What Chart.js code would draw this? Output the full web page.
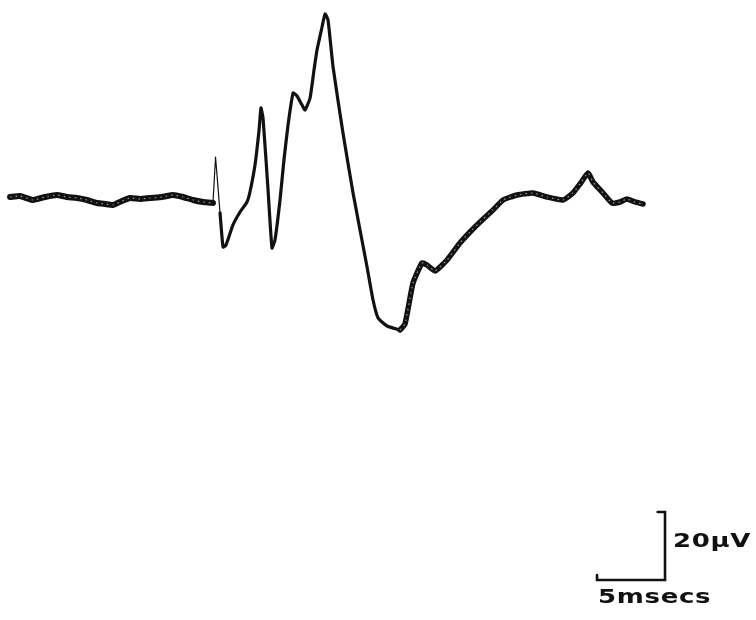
<!DOCTYPE html>
<html>
<head>
<meta charset="utf-8">
<script src="https://cdn.jsdelivr.net/npm/chart.js@4"></script>
<style>
  html, body { margin: 0; padding: 0; background: #ffffff; }
  #wrap { width: 756px; height: 620px; }
</style>
</head>
<body>
<div id="wrap"><canvas id="trace" width="756" height="620"></canvas></div>
<script>
// Evoked potential trace: time in ms (0 = stimulus), amplitude in µV.

// Pre-stimulus baseline (noisy)
const baselineT = [-15.07, -14.34, -13.38, -12.5, -11.62, -10.88, -10.15, -9.41, -8.68, -8.09, -7.5, -6.84, -6.25, -5.51, -4.78, -3.9, -3.09, -2.35, -1.62, -0.88, -0.15];
const baselineV = [0.88, 1.18, 0, 0.88, 1.47, 0.88, 0.59, 0, -0.88, -1.18, -1.47, -0.29, 0.59, 0.29, 0.59, 0.88, 1.47, 0.88, 0, -0.59, -0.88];

// Stimulus artifact
const artifactT = [-0.15, 0.04, 0.37];
const artifactV = [-0.88, 12.65, -3.82];

// Early response: onset, three positive waves and the large negative swing
const responseT = [0.37, 0.59, 0.81, 1.32, 1.84, 2.35, 2.57, 2.94, 3.24, 3.38, 3.53, 3.9, 4.19, 4.41, 4.78, 5.07, 5.37, 5.74, 6.03, 6.4, 6.62, 6.99, 7.28, 7.5, 7.87, 8.09, 8.31, 8.68, 9.41, 10.15, 11.18, 11.62, 11.99, 12.65, 13.6];
const responseV = [-3.82, -13.82, -13.24, -7.35, -3.53, -0.59, 2.35, 10.29, 20.59, 27.06, 24.12, 2.94, -14.12, -11.76, 0, 11.76, 22.06, 31.47, 30.59, 27.94, 26.47, 30, 38.24, 44.12, 50.88, 54.71, 52.94, 39.12, 19.71, 2.06, -19.71, -29.41, -34.71, -37.06, -38.24];

// Slow recovery back to baseline (noisy)
const recoveryT = [13.6, 13.97, 14.56, 15.22, 15.59, 16.18, 17.06, 18.01, 18.75, 19.49, 20.44, 21.18, 22.21, 23.38, 24.41, 25.59, 26.32, 26.84, 27.43, 27.79, 28.53, 29.19, 29.78, 30.29, 30.88, 31.47];
const recoveryV = [-38.24, -36.47, -24.41, -18.53, -19.12, -20.88, -17.65, -12.65, -9.41, -6.47, -2.94, 0, 1.47, 2.06, 0.88, 0, 2.06, 4.71, 7.94, 5.29, 2.06, -0.88, -0.59, 0.29, -0.59, -1.18];

// Calibration bar: 5 ms horizontal, 20 µV vertical
const scaleBarT = [28.09, 28.09, 33.09, 33.09, 32.55];
const scaleBarV = [-110.3, -111.76, -111.76, -91.76, -91.76];
const scaleBarLabels = ['20µV', '5msecs'];

const pts = (t, v) => t.map((x, i) => ({ x: x, y: v[i] }));

const traceStyle = (width) => ({
  borderColor: '#111111',
  borderWidth: width,
  pointRadius: 0,
  tension: 0.15,
  fill: false,
  borderJoinStyle: 'round',
  borderCapStyle: 'round',
  order: 2
});

// Light speckle running inside the thick noisy stretches of the trace
const speckle = {
  borderColor: 'rgba(190,190,190,0.8)',
  borderWidth: 1.2,
  borderDash: [1.5, 4],
  pointRadius: 0,
  tension: 0.15,
  fill: false,
  order: 1
};

// Labels for the calibration bar, placed from the bar's own scale positions
const calibrationLabels = {
  id: 'calibrationLabels',
  afterDatasetsDraw(chart) {
    const { ctx, scales: { x, y } } = chart;
    const right = x.getPixelForValue(scaleBarT[2]);
    const left = x.getPixelForValue(scaleBarT[0]);
    const top = y.getPixelForValue(scaleBarV[3]);
    const bottom = y.getPixelForValue(scaleBarV[1]);
    const stretch = 1.3;
    ctx.save();
    ctx.fillStyle = '#111111';
    ctx.font = 'bold 20px "DejaVu Sans", sans-serif';
    ctx.textBaseline = 'alphabetic';
    ctx.textAlign = 'left';
    if ('letterSpacing' in ctx) ctx.letterSpacing = '0.5px';
    ctx.scale(stretch, 1);
    ctx.fillText(scaleBarLabels[0], (right + 8) / stretch, (top + bottom) / 2 + 1);
    ctx.fillText(scaleBarLabels[1], (left + 1) / stretch, bottom + 23);
    ctx.restore();
  }
};

new Chart(document.getElementById('trace'), {
  type: 'line',
  data: {
    datasets: [
      Object.assign({ data: pts(baselineT, baselineV) }, traceStyle(6)),
      Object.assign({ data: pts(baselineT, baselineV) }, speckle),
      Object.assign({ data: pts(artifactT, artifactV) }, traceStyle(1.2), { tension: 0 }),
      Object.assign({ data: pts(responseT, responseV) }, traceStyle(3.2)),
      Object.assign({ data: pts(recoveryT, recoveryV) }, traceStyle(5.5)),
      Object.assign({ data: pts(recoveryT, recoveryV) }, speckle),
      Object.assign({ data: pts(scaleBarT, scaleBarV) }, traceStyle(2.6), { tension: 0, borderJoinStyle: 'miter' })
    ]
  },
  options: {
    responsive: false,
    animation: false,
    devicePixelRatio: 1,
    layout: { padding: 0 },
    plugins: { legend: { display: false }, tooltip: { enabled: false } },
    scales: {
      x: { type: 'linear', display: false, min: -15.81, max: 39.78 },
      y: { type: 'linear', display: false, min: -123.53, max: 58.82 }
    }
  },
  plugins: [calibrationLabels]
});
</script>
</body>
</html>
